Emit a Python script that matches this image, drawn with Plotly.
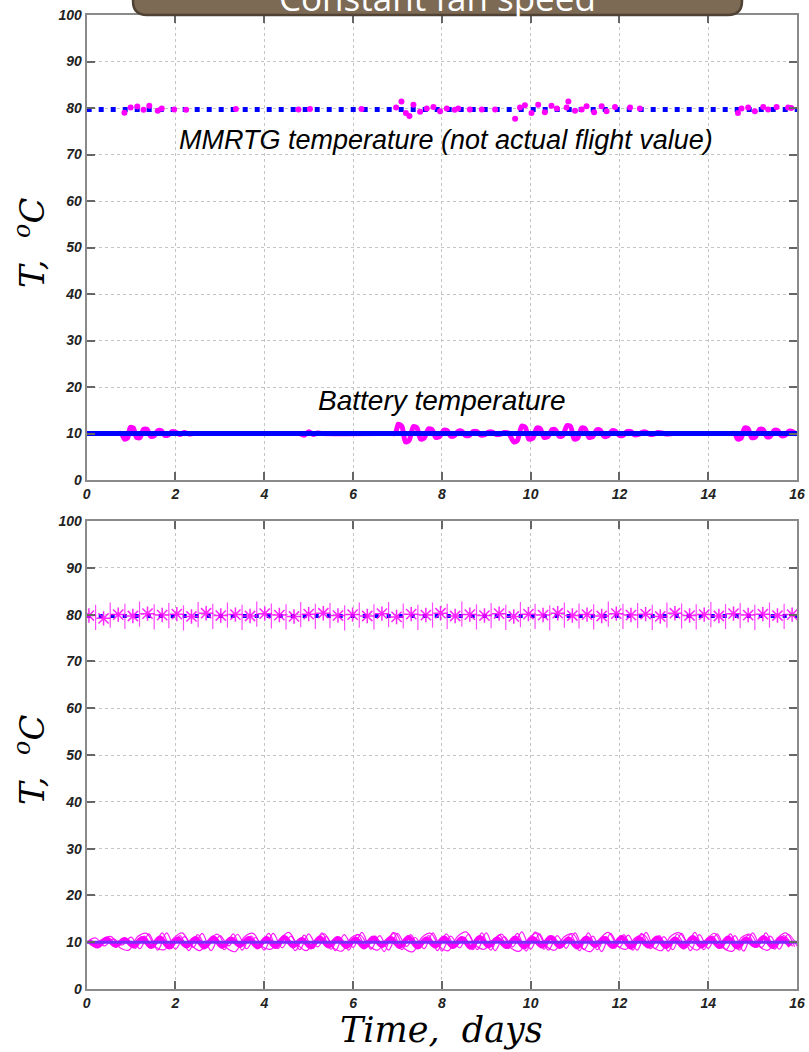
import plotly.graph_objects as go

# ---------------- data ----------------
x_ticks = [0, 2, 4, 6, 8, 10, 12, 14, 16]
y_ticks = [0, 10, 20, 30, 40, 50, 60, 70, 80, 90, 100]

# top panel: nominal (model) temperatures
nominal_time = [0, 16]
mmrtg_nominal = [79.7, 79.7]
battery_nominal = [10.0, 10.0]

# top panel: MMRTG measured samples (magenta dots)
mmrtg_time = [0.85, 0.99, 1.14, 1.28, 1.41, 1.60, 1.69, 1.97, 2.24, 3.36, 4.77, 5.03, 6.19,
              6.97, 7.09, 7.19, 7.27, 7.36, 7.51, 7.66, 7.81, 7.96, 8.11, 8.29, 8.37, 8.63,
              8.90, 9.20, 9.65, 9.76, 9.87, 10.02, 10.17, 10.32, 10.47, 10.59, 10.81, 10.85,
              11.00, 11.15, 11.26, 11.43, 11.60, 11.71, 11.90, 12.24, 12.46,
              14.67, 14.75, 14.90, 15.05, 15.24, 15.35, 15.54, 15.80, 15.87]
mmrtg_temp = [79.0, 80.1, 80.3, 79.6, 80.5, 79.4, 79.9, 79.7, 79.6, 79.8, 79.7, 79.8, 79.8,
              80.1, 81.4, 78.9, 78.3, 80.7, 79.2, 79.9, 80.2, 79.3, 79.9, 79.6, 79.9, 79.7,
              79.7, 79.7, 77.7, 80.1, 80.6, 78.9, 80.7, 79.1, 80.5, 79.9, 80.1, 81.4,
              79.4, 79.7, 80.4, 79.1, 80.4, 79.3, 80.2, 80.1, 79.9,
              78.9, 79.9, 80.1, 79.3, 80.2, 79.7, 80.2, 80.1, 80.0]

# top panel: battery measured temperature (damped oscillation bursts)
battery_time = [0.00, 0.70, 0.78, 0.85, 0.92, 0.98, 1.05, 1.12, 1.20, 1.28, 1.36, 1.44, 1.52, 1.60,
                1.68, 1.76, 1.84, 1.92, 2.00, 2.10, 2.20, 2.30, 2.40, 2.50, 4.70, 4.80, 4.90,
                5.00, 5.10, 5.20, 5.30, 6.85, 6.95, 7.02, 7.10, 7.18, 7.26, 7.36, 7.44, 7.52,
                7.60, 7.70, 7.78, 7.86,
                7.95, 8.04, 8.12, 8.20, 8.28, 8.37, 8.45, 8.53, 8.62, 8.70, 8.79, 8.87, 8.96,
                9.05, 9.14, 9.22, 9.31, 9.40, 9.50, 9.62, 9.70, 9.80, 9.88, 9.96, 10.05, 10.14,
                10.22, 10.30, 10.39, 10.48, 10.56, 10.64, 10.72, 10.82, 10.90, 10.98, 11.06,
                11.15, 11.23, 11.31, 11.40, 11.49, 11.57, 11.65, 11.74, 11.83, 11.91, 12.00,
                12.08, 12.17, 12.26, 12.34, 12.43, 12.52, 12.60, 12.69, 12.78, 12.87, 12.96,
                13.05, 13.20, 13.30, 14.50, 14.60, 14.66, 14.74, 14.82, 14.90, 14.98, 15.06,
                15.16, 15.24, 15.32, 15.40, 15.49, 15.57, 15.65, 15.73, 15.82, 15.90, 16.00]
battery_temp = [10.0, 10.0, 10.0, 8.8, 9.0, 11.3, 11.2, 9.2, 9.1, 10.9, 10.9, 9.4, 9.5, 10.6,
                10.6, 9.6, 9.7, 10.4, 10.3, 9.8, 10.2, 9.9, 10.0, 10.0, 10.0, 10.0, 9.6,
                10.4, 9.8, 10.1, 10.0, 10.0, 10.0, 12.0, 11.5, 8.2, 8.5, 11.5, 11.2, 8.8,
                9.0, 11.0, 10.8, 9.2,
                9.3, 10.7, 10.6, 9.4, 9.5, 10.5, 10.5, 9.6, 9.6, 10.4, 10.4, 9.7, 9.7,
                10.3, 10.3, 9.8, 9.8, 10.2, 10.1, 8.2, 8.5, 11.6, 11.3, 8.8, 9.0, 11.2,
                11.0, 9.2, 9.3, 10.8, 10.8, 9.4, 9.5, 11.7, 11.5, 8.8, 9.0,
                11.2, 11.0, 9.2, 9.3, 10.8, 10.7, 9.4, 9.5, 10.6, 10.5, 9.6,
                9.6, 10.4, 10.4, 9.7, 9.8, 10.3, 10.3, 9.8, 9.9, 10.2, 10.1,
                9.9, 10.0, 10.0, 10.0, 10.0, 8.8, 9.0, 11.2, 11.0, 9.1, 9.2,
                10.9, 10.8, 9.3, 9.4, 10.7, 10.6, 9.5, 9.6, 10.5, 10.4, 9.8]

# bottom panel: many runs, battery band (uniform samples, 0.2 day spacing)
run_a_battery = [10.0, 10.9, 9.2, 10.7, 9.4, 11.1, 8.6, 11.8, 8.3, 12.0,
                 8.5, 11.2, 8.9, 11.9, 8.2, 11.4, 9.2, 11.7, 8.6, 11.0,
                 8.3, 11.9, 8.8, 11.3, 8.4, 11.8, 9.0, 11.2, 8.2, 11.6,
                 8.9, 12.1, 8.5, 11.4, 8.3, 11.9, 9.1, 11.0, 8.6, 12.0,
                 8.1, 11.3, 8.8, 11.7, 8.4, 12.0, 8.2, 11.2, 9.0, 12.2,
                 8.5, 11.8, 8.3, 11.4, 8.7, 12.0, 8.4, 11.3, 8.0, 11.9,
                 8.9, 11.5, 8.3, 12.1, 8.6, 11.2, 8.4, 11.9, 8.2, 11.6,
                 8.7, 11.8, 8.4, 11.4, 8.1, 12.0, 8.9, 11.3, 8.5, 11.7,
                 9.2]
run_b_battery = [9.9, 9.6, 10.3, 9.7, 10.4, 8.7, 11.3, 8.8, 12.0, 8.6,
                 11.4, 8.2, 11.6, 8.9, 11.1, 8.4, 11.8, 8.3, 11.3, 9.0,
                 11.9, 8.6, 11.2, 8.2, 11.5, 8.7, 12.0, 8.5, 11.1, 8.3,
                 11.7, 8.9, 11.3, 8.0, 12.1, 8.4, 11.6, 8.7, 11.4, 8.2,
                 11.8, 9.0, 11.1, 8.4, 12.0, 8.3, 11.5, 8.6, 11.9, 8.1,
                 12.2, 8.5, 11.3, 8.9, 11.7, 8.2, 12.0, 8.4, 11.2, 8.7,
                 11.6, 8.3, 11.9, 8.6, 11.4, 8.1, 11.7, 9.0, 12.1, 8.4,
                 11.3, 8.7, 11.8, 8.3, 11.5, 8.9, 12.0, 8.5, 11.4, 9.1]
run_c_battery = [10.3, 9.2, 10.7, 9.3, 10.6, 9.2, 10.8, 9.1, 10.9, 9.0,
                 10.7, 9.2, 10.8, 9.0, 10.9, 9.1, 10.7, 9.3, 10.8, 9.0,
                 10.8, 9.1, 11.0, 9.2, 10.6, 9.0, 10.9, 9.2, 10.8, 9.1,
                 10.7, 9.0, 10.9, 9.3, 10.8, 9.1, 11.0, 9.0, 10.7, 9.2,
                 10.9, 9.1, 10.8, 8.9, 11.0, 9.2, 10.7, 9.1, 10.9, 9.0,
                 10.8, 9.2, 11.0, 9.1, 10.7, 9.0, 10.9, 9.3, 10.8, 9.1,
                 11.0, 9.0, 10.8, 9.2, 10.9, 9.1, 10.7, 9.0, 11.0, 9.2,
                 10.8, 9.1, 10.9, 9.0, 10.7, 9.3, 11.0, 9.1, 10.8, 9.2]
run_d_battery = [9.4, 10.6, 11.2, 8.8, 8.3, 11.2, 11.9, 9.0, 8.4, 10.8,
                 12.0, 9.4, 8.2, 10.4, 11.7, 8.8, 8.0, 11.1, 11.9, 9.1,
                 8.5, 10.6, 12.1, 9.5, 8.2, 10.3, 11.8, 8.9, 8.1, 10.9,
                 11.6, 9.3, 8.3, 10.5, 12.0, 8.7, 8.0, 11.0, 11.9, 9.0,
                 8.2, 11.2, 12.2, 9.4, 8.5, 10.4, 11.7, 8.8, 8.1, 10.8,
                 12.0, 9.2, 8.3, 11.1, 11.8, 8.9, 8.0, 10.6, 12.1, 9.3,
                 8.5, 10.9, 11.6, 9.0, 8.2, 11.2, 12.0, 9.5, 8.3, 10.5,
                 11.9, 8.7, 8.1, 11.0, 11.7, 9.1, 8.3, 10.8, 12.0, 9.0]

# bottom panel: MMRTG band clusters (one cluster every ~0.33 day)
run_mmrtg_a = [79.8, 79.2, 80.0, 79.7, 80.2, 79.9, 80.1, 79.6, 80.3, 79.8,
               80.0, 79.7, 80.2, 79.9, 79.6, 80.1, 80.3, 79.8, 80.0, 79.7,
               80.2, 79.5, 80.1, 79.9, 80.3, 79.7, 80.0, 79.8, 80.2, 79.6,
               80.1, 79.9, 80.3, 79.8, 80.0, 79.7, 80.2, 79.9, 80.1, 79.6,
               80.3, 79.8, 80.0, 79.7, 80.2, 79.9, 80.1, 79.8, 80.0]
run_mmrtg_b = [79.4, 79.9, 79.6, 80.1, 79.5, 79.8, 79.3, 80.0, 79.6, 79.9,
               79.4, 80.1, 79.7, 79.5, 80.0, 79.6, 79.8, 79.3, 79.9, 79.5,
               80.0, 79.7, 79.4, 79.9, 79.6, 80.1, 79.5, 79.8, 79.4, 80.0,
               79.6, 79.3, 79.9, 79.7, 79.5, 80.1, 79.6, 79.8, 79.4, 79.9,
               79.7, 79.5, 80.0, 79.6, 79.8, 79.4, 79.9, 79.6, 80.2]

MAGENTA = "#ff00ff"
BLUE = "#0000ff"

fig = go.Figure()

# ---- top panel ----
fig.add_trace(go.Scatter(x=battery_time, y=battery_temp, mode="lines",
                         line=dict(color=MAGENTA, width=5, shape="spline", smoothing=0.7),
                         xaxis="x", yaxis="y", hoverinfo="skip"))
fig.add_trace(go.Scatter(x=nominal_time, y=battery_nominal, mode="lines",
                         line=dict(color=BLUE, width=5), xaxis="x", yaxis="y"))
fig.add_trace(go.Scatter(x=nominal_time, y=mmrtg_nominal, mode="lines",
                         line=dict(color=BLUE, width=5, dash="5px,7px"), xaxis="x", yaxis="y"))
fig.add_trace(go.Scatter(x=mmrtg_time, y=mmrtg_temp, mode="markers",
                         marker=dict(color=MAGENTA, size=6), xaxis="x", yaxis="y"))

# ---- bottom panel ----
for x0, dx, vals in [(0.1, 0.2, run_b_battery), (0.0, 0.2, run_a_battery),
                     (0.15, 0.2, run_d_battery)]:
    fig.add_trace(go.Scatter(x0=x0, dx=dx, y=vals, mode="lines",
                             line=dict(color=MAGENTA, width=1.2, shape="spline", smoothing=1.0),
                             opacity=0.9, xaxis="x2", yaxis="y2"))
fig.add_trace(go.Scatter(x0=0.05, dx=0.2, y=run_c_battery, mode="lines",
                         line=dict(color=MAGENTA, width=5, shape="spline", smoothing=1.0),
                         xaxis="x2", yaxis="y2"))
fig.add_trace(go.Scatter(x=nominal_time, y=battery_nominal, mode="lines",
                         line=dict(color="#7a2cff", width=3), xaxis="x2", yaxis="y2"))
fig.add_trace(go.Scatter(x=nominal_time, y=mmrtg_nominal, mode="lines",
                         line=dict(color=BLUE, width=4, dash="4px,8px"), xaxis="x2", yaxis="y2"))
fig.add_trace(go.Scatter(x0=0.2, dx=0.33, y=run_mmrtg_b, mode="markers",
                         marker=dict(symbol="line-ns-open", size=18, color=MAGENTA,
                                     line=dict(color=MAGENTA, width=1.2)),
                         opacity=0.7, xaxis="x2", yaxis="y2"))
fig.add_trace(go.Scatter(x0=0.05, dx=0.33, y=run_mmrtg_a, mode="markers",
                         marker=dict(symbol="asterisk-open", size=12, color=MAGENTA,
                                     line=dict(color=MAGENTA, width=1.5)),
                         opacity=0.85, xaxis="x2", yaxis="y2"))

W, H = 809, 1052
xl, xr = 86.7 / W, 797 / W
top_dom = [1 - 480 / H, 1 - 15 / H]
bot_dom = [1 - 989 / H, 1 - 521 / H]

tickfont = dict(family="Liberation Sans", size=14, color="#222", weight="bold", style="italic")
axis_common = dict(showline=True, linecolor="#8a8a8a", linewidth=2, mirror="ticks",
                   ticks="inside", ticklen=8, tickwidth=1.5, tickcolor="#666",
                   showgrid=True, gridcolor="#c4c4c4", griddash="dot", gridwidth=1,
                   zeroline=False, tickfont=tickfont, automargin=False)

fig.update_layout(
    width=W, height=H, margin=dict(l=0, r=0, t=0, b=0, autoexpand=False),
    paper_bgcolor="white", plot_bgcolor="white", showlegend=False,
    xaxis=dict(domain=[xl, xr], range=[0, 16], tickvals=x_ticks, anchor="y", **axis_common),
    yaxis=dict(domain=top_dom, range=[0, 100], tickvals=y_ticks, anchor="x", **axis_common),
    xaxis2=dict(domain=[xl, xr], range=[0, 16], tickvals=x_ticks, anchor="y2", **axis_common),
    yaxis2=dict(domain=bot_dom, range=[0, 100], tickvals=y_ticks, anchor="x2", **axis_common),
)

# title banner (partially cut by the top of the page)
bx0, bx1 = 133 / W, 742 / W
byb, byt = 1 - 15 / H, 1 + 30 / H
rx, ry = 14 / W, 14 / H
path = (f"M {bx0},{byt} L {bx0},{byb + ry} Q {bx0},{byb} {bx0 + rx},{byb} "
        f"L {bx1 - rx},{byb} Q {bx1},{byb} {bx1},{byb + ry} L {bx1},{byt} Z")
fig.add_shape(type="path", path=path, xref="paper", yref="paper",
              fillcolor="#7d6a55", line=dict(color="#4f4234", width=2.5), layer="above")

serif = "DejaVu Serif"
annotations = [
    dict(text="Constant fan speed", x=437 / W, y=1 - 23 / H, xref="paper", yref="paper",
         xanchor="center", yanchor="bottom", showarrow=False,
         font=dict(family="Open Sans", size=35, color="white")),
    dict(text="<i>MMRTG temperature (not actual flight value)</i>", x=8.09, y=73.1,
         xref="x", yref="y", xanchor="center", yanchor="middle", showarrow=False,
         font=dict(family="Liberation Sans", size=27, color="black")),
    dict(text="<i>Battery temperature</i>", x=8.0, y=17.2, xref="x", yref="y",
         xanchor="center", yanchor="middle",
         showarrow=False, font=dict(family="Liberation Sans", size=28, color="black")),
    dict(text="<i>T,  <sup>o</sup>C</i>", x=30 / W, y=1 - 243 / H, xref="paper", yref="paper",
         xanchor="center", yanchor="middle",
         textangle=-90, showarrow=False, font=dict(family=serif, size=34, color="black")),
    dict(text="<i>T,  <sup>o</sup>C</i>", x=30 / W, y=1 - 760 / H, xref="paper", yref="paper",
         xanchor="center", yanchor="middle",
         textangle=-90, showarrow=False, font=dict(family=serif, size=34, color="black")),
    dict(text="<i>Time,  days</i>", x=441 / W, y=1 - 1030 / H, xref="paper", yref="paper",
         xanchor="center", yanchor="middle",
         showarrow=False, font=dict(family=serif, size=35, color="black")),
]
fig.update_layout(annotations=annotations)

fig.write_html("out.html", config={"displayModeBar": False},
               post_script="document.body.style.margin='0px';document.body.style.overflow='hidden';")
